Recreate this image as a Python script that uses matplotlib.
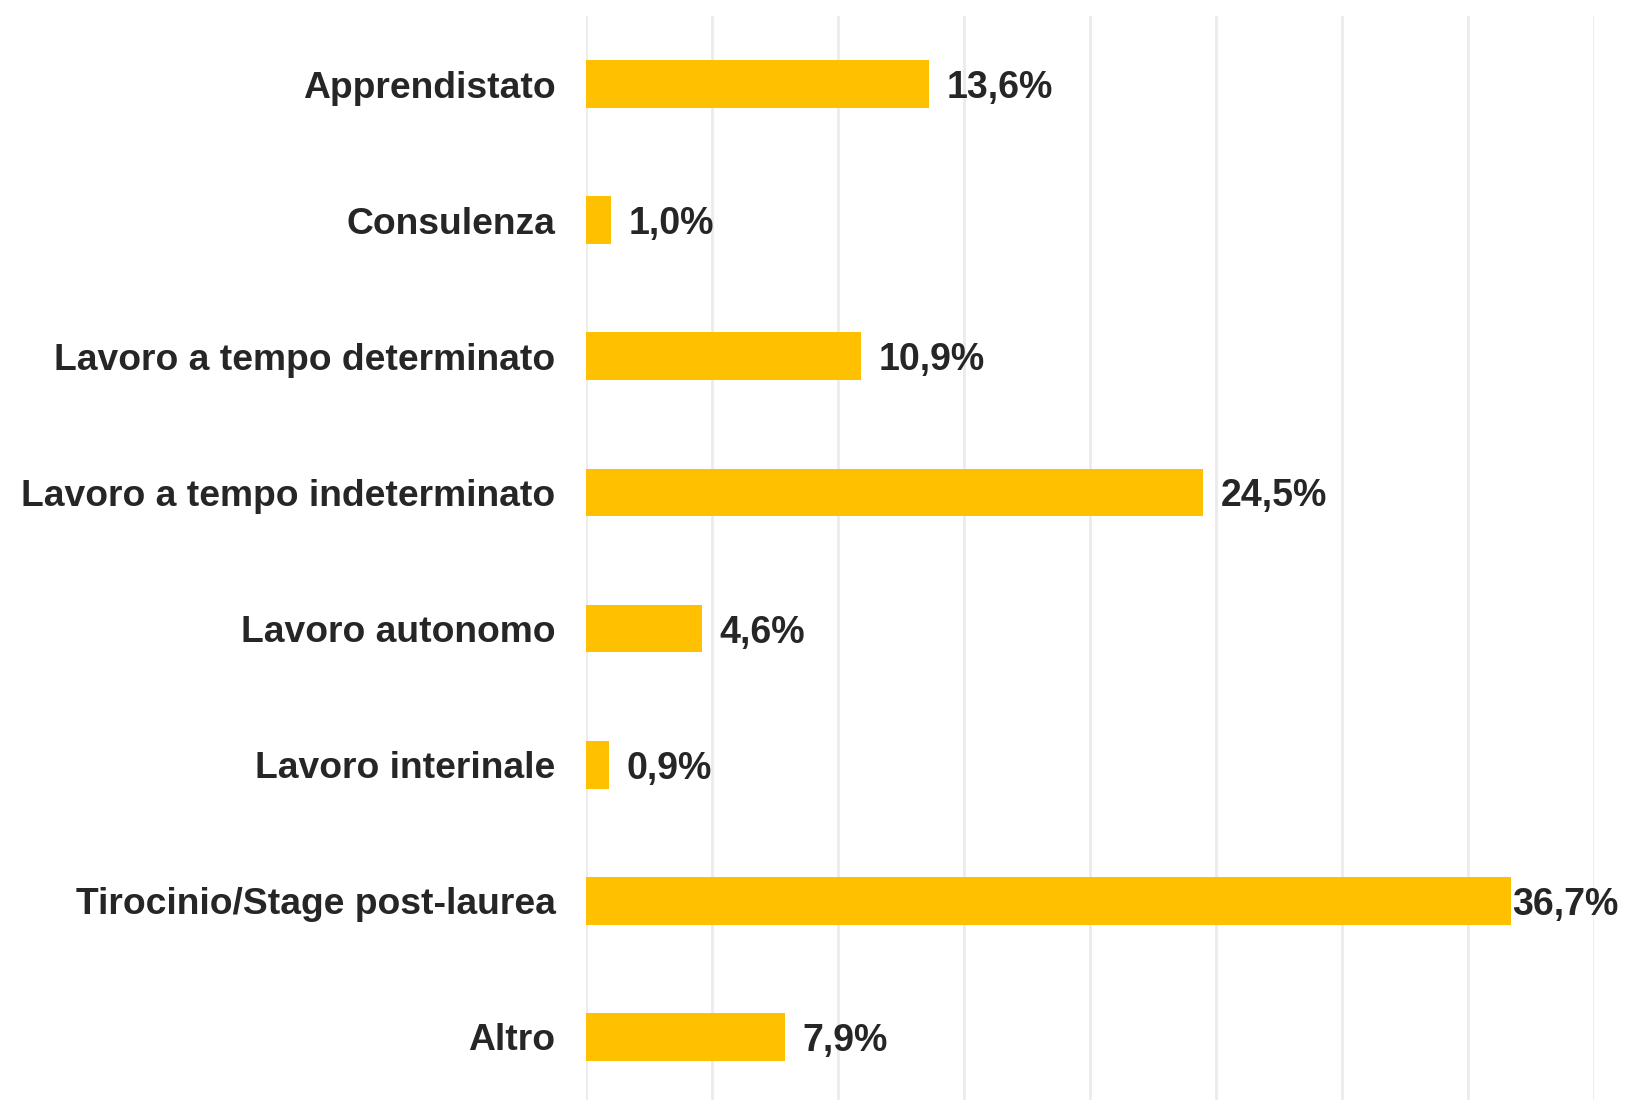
import matplotlib.pyplot as plt

categories = ["Apprendistato", "Consulenza", "Lavoro a tempo determinato",
              "Lavoro a tempo indeterminato", "Lavoro autonomo",
              "Lavoro interinale", "Tirocinio/Stage post-laurea", "Altro"]
values = [13.6, 1.0, 10.9, 24.5, 4.6, 0.9, 36.7, 7.9]

plt.rcParams['font.family'] = ['Liberation Sans', 'DejaVu Sans']
text_color = "#262626"

fig = plt.figure(figsize=(16.3, 11), dpi=100)
ax = fig.add_axes([586/1630, -5/1100, (1594-586)/1630, (1105-16)/1100])

y = list(range(len(categories)))
ax.barh(y, values, height=0.35, color="#FFC000", zorder=2)
ax.set_ylim(len(categories) - 0.5, -0.5)
ax.set_xlim(0, 40)
ax.set_xticks(range(0, 41, 5))
ax.set_yticks(y)
ax.set_yticklabels(categories, fontsize=26.8, fontweight='bold', color=text_color)
ax.tick_params(axis='y', length=0, pad=22)
ax.tick_params(axis='x', length=0, labelbottom=False)
ax.grid(axis='x', color="#EBEBEB", linewidth=2, zorder=0)
for s in ax.spines.values():
    s.set_visible(False)

for yi, v in zip(y, values):
    lab = f"{v:.1f}%".replace(".", ",")
    off = 0.7 if v < 33 else 0.05
    ax.text(v + off, yi, lab, va='center_baseline', ha='left', fontsize=27,
            fontweight='bold', color=text_color, clip_on=False)

fig.savefig("out.png", dpi=100)
